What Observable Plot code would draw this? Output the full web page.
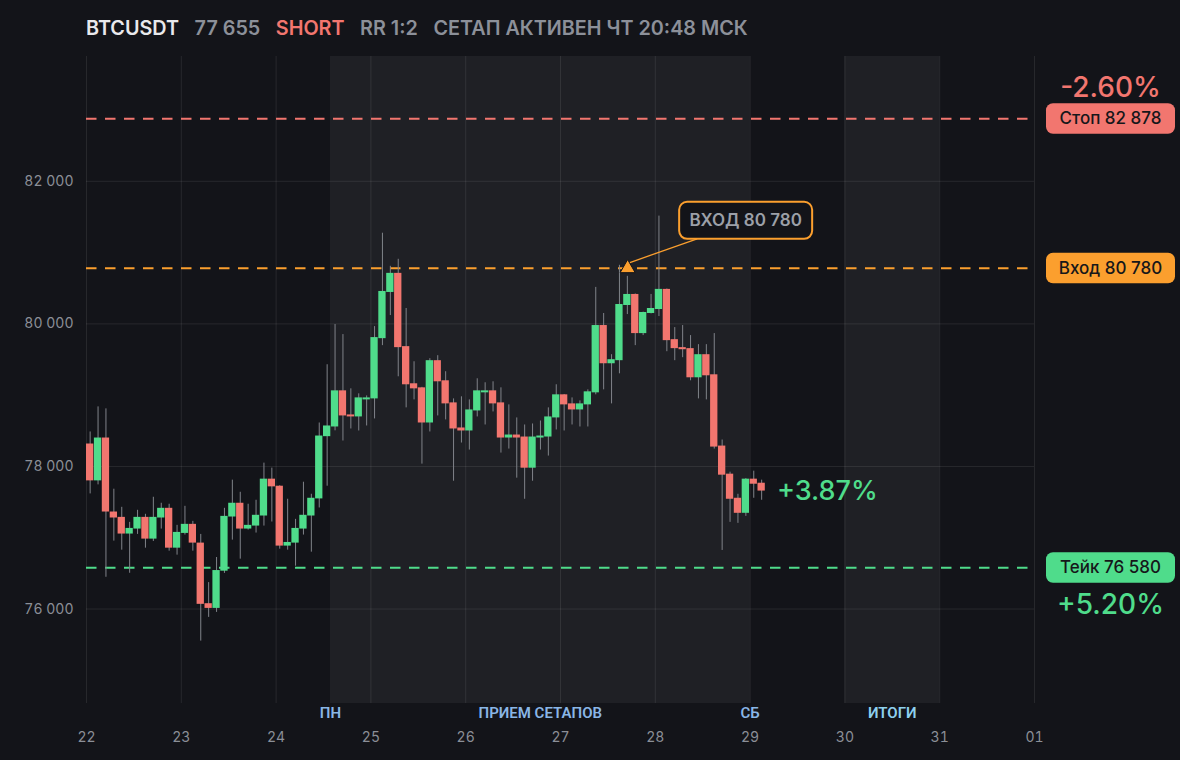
<!DOCTYPE html>
<html>
<head>
<meta charset="utf-8">
<script src="https://cdn.jsdelivr.net/npm/d3@7"></script>
<script src="https://cdn.jsdelivr.net/npm/@observablehq/plot@0.6"></script>
<style>
html, body { margin: 0; padding: 0; background: #131419; }
#header { height: 56px; display: flex; align-items: center; padding-left: 86px; gap: 15.5px;
  font-family: Inter, "Noto Sans", sans-serif; font-size: 19.8px; font-weight: 600; color: #8c9099; box-sizing: border-box; }
#chart svg { display: block; overflow: visible; }
</style>
</head>
<body>
<div id="header"></div>
<div id="chart"></div>
<script>
// ---------- data ----------
const headerParts = ["BTCUSDT", "77 655", "SHORT", "RR 1:2", "СЕТАП АКТИВЕН ЧТ 20:48 МСК"];
const startUTC = Date.UTC(2025, 2, 22);   // first candle: 22 Mar 00:00
const candleHours = 2;

const opens  = [78315,77798,78399,77361,77286,77052,77122,77286,76981,77277,77413,76854,77061,77188,76925,76075,76009,76531,77291,77484,
                77122,77164,77305,77822,77723,76883,76925,77122,77305,77545,78418,78554,79061,78723,78695,78934,78948,79793,80441,80709,
                79681,79160,79103,78610,79484,79202,78892,78540,78498,78779,79033,79061,78892,78399,78441,78413,77976,78399,78413,78681,
                79005,78878,78793,78864,79033,79977,79441,79484,80258,80413,79864,80146,80202,80484,79779,79667,79653,79244,79568,79286,
                78286,77892,77554,77343,77822,77765];
const highs  = [78484,78836,78808,77681,77427,77216,77385,77329,77568,77484,77470,77174,77441,77230,77047,76371,76723,77413,77808,77638,
                77470,77526,78047,77977,77730,77540,77258,77779,77610,78610,79427,79991,79850,79089,79019,78990,79962,81272,80808,80906,
                80216,79469,79110,79512,79554,79329,78948,78977,78934,79230,79174,79188,79103,78864,78681,78582,78596,78638,78822,79146,
                79010,78962,78920,79075,80512,80146,79568,80822,80667,80420,80165,80413,81512,80490,79948,79977,79836,79709,79709,79864,
                78371,77920,77610,77830,77934,77808];
const lows   = [77615,77742,76446,76953,76826,76502,77047,76854,76948,77122,76812,76756,77038,76812,75550,75883,75953,76500,76967,76700,
                77108,77066,77164,77221,76840,76826,76601,77038,76798,77418,77723,78500,78357,78526,78498,78568,78667,79695,80117,79258,
                78822,78934,78033,78484,78709,78653,77793,78329,78230,78695,78582,78765,78188,78244,77836,77540,77793,78230,78146,78512,
                78498,78582,78554,78554,79005,79075,78878,79300,80131,79695,79836,80140,80103,79610,79484,79526,79202,78948,78934,78244,
                76822,77216,77202,77300,77554,77526];
const closes = [77798,78399,77361,77277,77052,77131,77286,76981,77286,77413,76854,77075,77188,76925,76066,76009,76540,77300,77484,77122,
                77174,77315,77822,77714,76883,76934,77131,77315,77554,78427,78568,79061,78709,78695,78962,78962,79808,80455,80709,79667,
                79146,79089,78610,79484,79188,78878,78526,78498,78793,79061,79061,78878,78399,78441,78399,77976,78413,78427,78695,79005,
                78864,78793,78878,79047,79977,79441,79498,80272,80413,79864,80160,80216,80484,79765,79653,79638,79244,79568,79272,78272,
                77878,77540,77343,77822,77751,77655];

const entryPrice = 80780;
const stopPrice = 82878;
const takePrice = 76580;
const entryCandleIndex = 68;              // candle where the entry marker sits
const calloutLabel = "ВХОД 80 780";

const yTicks = [76000, 78000, 80000, 82000];
const dayTicks = [22, 23, 24, 25, 26, 27, 28, 29, 30, 31, 32].map(d => new Date(Date.UTC(2025, 2, d)));
const xDomain = [new Date(Date.UTC(2025, 2, 22)), new Date(Date.UTC(2025, 3, 1))];
const yDomain = [74675, 83751];

const zoneStarts = [new Date(Date.UTC(2025, 2, 24, 13, 45)), new Date(Date.UTC(2025, 2, 30))];
const zoneEnds   = [new Date(Date.UTC(2025, 2, 29)),         new Date(Date.UTC(2025, 2, 31))];
const zoneLabelTexts = ["ПН", "ПРИЕМ СЕТАПОВ", "СБ", "ИТОГИ"];

// ---------- colours ----------
const GREEN = "#4fdc8b", RED = "#f2766f", ORANGE = "#fb9f2e";
const BG = "#131419", ZONE = "#1f2025", GRID = "#ffffff", TEXT = "#8b8f97";

// ---------- derived tables ----------
const H = 3600 * 1000;
const candles = opens.map((o, i) => {
  const t = startUTC + i * candleHours * H;
  return { t0: new Date(t), t1: new Date(t + candleHours * H), tm: new Date(t + candleHours * H / 2),
           open: o, high: highs[i], low: lows[i], close: closes[i], up: closes[i] >= o };
});
const last = candles[candles.length - 1];
const fmt = n => String(n).replace(/\B(?=(\d{3})+(?!\d))/g, " ");
const pct = v => (v >= 0 ? "+" : "-") + Math.abs(v).toFixed(2) + "%";

const levels = [
  { name: "Стоп", value: stopPrice, color: RED },
  { name: "Вход", value: entryPrice, color: ORANGE },
  { name: "Тейк", value: takePrice, color: GREEN }
];
const zones = zoneStarts.map((s, i) => ({ x1: s, x2: zoneEnds[i] }));
const zoneLabels = [
  { x: zoneStarts[0], text: zoneLabelTexts[0], fill: "#8ab6e6" },
  { x: new Date((+zoneStarts[0] + +zoneEnds[0]) / 2), text: zoneLabelTexts[1], fill: "#8ab6e6" },
  { x: zoneEnds[0], text: zoneLabelTexts[2], fill: "#8ab6e6" },
  { x: new Date((+zoneStarts[1] + +zoneEnds[1]) / 2), text: zoneLabelTexts[3], fill: "#8ed0ee" }
];

// ---------- header ----------
const header = document.getElementById("header");
headerParts.forEach((p, i) => {
  const s = document.createElement("span");
  s.textContent = p;
  if (i === 0) s.style.color = "#e9e9ec";
  if (i === 2) s.style.color = RED;
  header.appendChild(s);
});

// ---------- custom marks ----------
function rightPills(index, scales, values, dims) {
  const g = d3.create("svg:g");
  const xr = dims.width - dims.marginRight;
  for (const lv of levels) {
    const y = scales.y(lv.value);
    g.append("rect").attr("x", xr + 12).attr("y", y - 15).attr("width", 129).attr("height", 30.5)
      .attr("rx", 7).attr("fill", lv.color);
    g.append("text").attr("x", xr + 12 + 64.5).attr("y", y).attr("dy", "0.36em")
      .attr("text-anchor", "middle").attr("fill", "#16171a")
      .attr("font-family", "Inter, sans-serif").attr("font-size", 17).attr("font-weight", 500)
      .text(`${lv.name} ${fmt(lv.value)}`);
  }
  return g.node();
}

function callout(index, scales, values, dims) {
  const c = candles[entryCandleIndex];
  const ax = scales.x(c.tm), ay = scales.y(entryPrice);
  const g = d3.create("svg:g");
  const bx = ax + 52, by = ay - 66, bw = 133, bh = 37;
  g.append("line").attr("x1", ax + 2).attr("y1", ay - 5).attr("x2", ax + 70).attr("y2", by + bh)
    .attr("stroke", ORANGE).attr("stroke-width", 1.3);
  g.append("rect").attr("x", bx).attr("y", by).attr("width", bw).attr("height", bh).attr("rx", 8)
    .attr("fill", BG).attr("stroke", ORANGE).attr("stroke-width", 2);
  g.append("text").attr("x", bx + bw / 2).attr("y", by + bh / 2).attr("dy", "0.36em")
    .attr("text-anchor", "middle").attr("fill", "#9ca0a8")
    .attr("font-family", "Inter, sans-serif").attr("font-size", 17).attr("font-weight", 600)
    .text(calloutLabel);
  return g.node();
}

// ---------- chart ----------
const chart = Plot.plot({
  width: 1180,
  height: 704,
  marginTop: 0,
  marginBottom: 57,
  marginLeft: 86,
  marginRight: 146,
  style: { background: "transparent", color: TEXT, fontFamily: "Inter, sans-serif", fontSize: "14px" },
  x: { type: "utc", domain: xDomain },
  y: { domain: yDomain },
  marks: [
    Plot.rect(zones, { x1: "x1", x2: "x2", fill: ZONE }),
    Plot.ruleX(dayTicks, { stroke: GRID, strokeOpacity: 0.085 }),
    Plot.ruleY(yTicks, { stroke: GRID, strokeOpacity: 0.085 }),
    Plot.axisY({ ticks: yTicks, tickFormat: fmt, tickSize: 0, tickPadding: 13, fontSize: 14 }),
    Plot.axisX({ ticks: dayTicks, tickFormat: d3.utcFormat("%d"), tickSize: 0, tickPadding: 29, fontSize: 14 }),
    Plot.text(zoneLabels, { x: "x", text: "text", fill: "fill", frameAnchor: "bottom", dy: 14,
      fontFamily: "Roboto, sans-serif", fontWeight: 600, fontSize: 15 }),
    Plot.ruleY(levels, { y: "value", stroke: "color", strokeWidth: 2, strokeDasharray: "10.5,8.5" }),
    Plot.ruleX(candles, { x: "tm", y1: "low", y2: "high", stroke: "#80838a", strokeWidth: 1, dx: -0.3 }),
    Plot.rect(candles, { x1: "t0", x2: "t1", y1: "open", y2: "close", insetRight: 0.6,
      fill: d => d.up ? GREEN : RED }),
    callout,
    Plot.dot([candles[entryCandleIndex]], { x: "tm", y: () => entryPrice, symbol: "triangle", r: 5.6,
      fill: ORANGE, stroke: BG, strokeWidth: 1 }),
    rightPills,
    Plot.text([stopPrice], { y: d => d, text: d => pct(-(d - entryPrice) / entryPrice * 100), frameAnchor: "right",
      dx: 76, dy: -31, textAnchor: "middle", fill: RED, fontSize: 28, fontWeight: 500 }),
    Plot.text([takePrice], { y: d => d, text: d => pct((entryPrice - d) / entryPrice * 100), frameAnchor: "right",
      dx: 76, dy: 37, textAnchor: "middle", fill: GREEN, fontSize: 28, fontWeight: 500 }),
    Plot.text([last], { x: "tm", y: "close", text: d => pct((entryPrice - d.close) / entryPrice * 100),
      dx: 15, textAnchor: "start", fill: GREEN, fontSize: 27, fontWeight: 500 })
  ]
});
document.getElementById("chart").appendChild(chart);
</script>
</body>
</html>
